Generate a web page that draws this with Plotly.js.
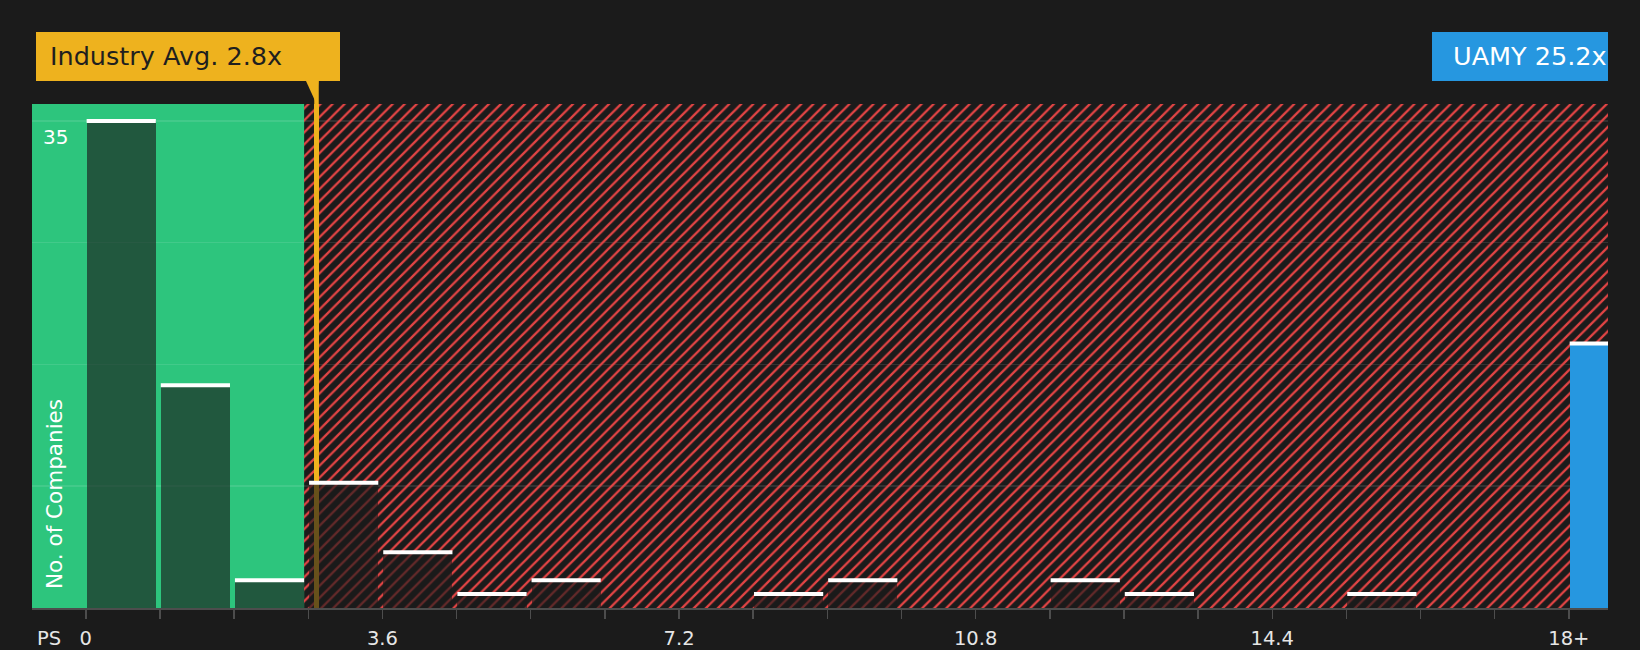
<!DOCTYPE html>
<html>
<head>
<meta charset="utf-8">
<script src="https://cdn.plot.ly/plotly-3.0.1.min.js"></script>
<style>
  html, body { margin: 0; padding: 0; background: #1b1b1b; }
  #chart { width: 1640px; height: 650px; }
</style>
</head>
<body>
<div id="chart"></div>
<script>
"use strict"

// PS ratio bins (start of each 0.9 wide bin) and no. of companies
const binStarts = [0, 0.9, 1.8, 2.7, 3.6, 4.5, 5.4, 6.3, 7.2, 8.1, 9.0, 9.9, 10.8, 11.7, 12.6, 13.5, 14.4, 15.3, 16.2, 17.1]
const counts    = [35, 16, 2, 9, 4, 1, 2, 0, 0, 1, 2, 0, 0, 2, 1, 0, 0, 1, 0, 0]
const overflowStart = 18
const overflowCount = 19

const industryAvg = 2.8
const greenUpper = 2.65
const companyName = "UAMY"
const companyPS = 25.2

const tickVals = [0, 0.9, 1.8, 2.7, 3.6, 4.5, 5.4, 6.3, 7.2, 8.1, 9.0, 9.9, 10.8, 11.7, 12.6, 13.5, 14.4, 15.3, 16.2, 17.1, 18]
const tickText = ["0", "", "", "", "3.6", "", "", "", "7.2", "", "", "", "10.8", "", "", "", "14.4", "", "", "", "18+"]
const gridVals = [0, 8.75, 17.5, 26.25, 35]

const GREEN = "#2dc57d"
const RED = "#e24444"
const ORANGE = "#eeb21e"
const BLUE = "#2697e0"
const BG = "#1b1b1b"
const FONT = "DejaVu Sans, Verdana, sans-serif"

const barOffset = 0.01
const barWidth = 0.84
const yMax = 36.22

// hatched "overvalued" zone, drawn as a patterned bar so it sits under the data bars
const hatch = {
  type: "bar",
  x: [greenUpper],
  y: [yMax + 5],
  base: 0,
  offset: 0,
  width: [20],
  marker: {
    color: "rgba(0,0,0,0)",
    line: {width: 0},
    pattern: {shape: "/", fgcolor: RED, bgcolor: "rgba(0,0,0,0)", size: 8.5, solidity: 0.27}
  },
  hoverinfo: "skip"
}

const avgLine = {
  type: "bar",
  x: [industryAvg],
  y: [yMax + 5],
  width: [0.055],
  marker: {color: ORANGE, line: {width: 0}},
  hoverinfo: "skip"
}

const bars = {
  type: "bar",
  x: binStarts,
  y: counts,
  offset: barOffset,
  width: barWidth,
  marker: {color: "rgba(27,27,27,0.64)", line: {width: 0}},
  hoverinfo: "skip"
}

const overflowBar = {
  type: "bar",
  x: [overflowStart],
  y: [overflowCount],
  offset: barOffset,
  width: barWidth,
  marker: {color: BLUE, line: {width: 0}},
  hoverinfo: "skip"
}

// white caps on top of each non-empty bar
const capX = []
const capY = []
binStarts.concat([overflowStart]).forEach((s, i) => {
  const v = i < counts.length ? counts[i] : overflowCount
  if (v > 0) {
    capX.push(s + barOffset, s + barOffset + barWidth, null)
    capY.push(v, v, null)
  }
})
const caps = {
  type: "scatter",
  mode: "lines",
  x: capX,
  y: capY,
  line: {color: "#ffffff", width: 4},
  hoverinfo: "skip"
}

// pixel -> paper helpers for the boxes above the plot
const M = {l: 32, r: 32, t: 104, b: 42}
const plotW = 1640 - M.l - M.r
const plotH = 650 - M.t - M.b
const px = x => (x - M.l) / plotW
const py = y => (650 - M.b - y) / plotH

const layout = {
  width: 1640,
  height: 650,
  margin: M,
  paper_bgcolor: BG,
  plot_bgcolor: BG,
  barmode: "overlay",
  bargap: 0,
  showlegend: false,
  hovermode: false,
  font: {family: FONT, color: "#e6e6e6"},
  xaxis: {
    range: [-0.653, 18.475],
    tickvals: tickVals,
    ticktext: tickText,
    ticks: "outside",
    ticklen: 9,
    tickwidth: 1.5,
    tickcolor: "#4d4d4d",
    showline: true,
    linecolor: "#4d4d4d",
    linewidth: 2,
    showgrid: false,
    zeroline: false,
    ticklabelstandoff: 3,
    tickfont: {size: 19.5, color: "#e6e6e6", family: FONT}
  },
  yaxis: {
    range: [0, yMax],
    tickvals: gridVals,
    showticklabels: false,
    showgrid: true,
    gridcolor: "rgba(255,255,255,0.1)",
    gridwidth: 1.5,
    zeroline: false,
    showline: false
  },
  shapes: [
    {type: "rect", layer: "below", xref: "x", yref: "paper", x0: -2, x1: greenUpper, y0: 0, y1: 1,
      fillcolor: GREEN, line: {width: 0}},
    {type: "line", layer: "above", xref: "x", yref: "paper", x0: industryAvg, x1: industryAvg, y0: 1, y1: py(81),
      line: {color: ORANGE, width: 4.5}},
    {type: "path", layer: "above", xref: "x", xsizemode: "pixel", xanchor: industryAvg,
      yref: "paper", ysizemode: "pixel", yanchor: 1,
      path: "M-10.5,23L2,23L0,0Z", fillcolor: ORANGE, line: {width: 0}},
    {type: "rect", layer: "above", xref: "paper", yref: "paper", x0: px(36), x1: px(340), y0: py(81), y1: py(32),
      fillcolor: ORANGE, line: {width: 0}},
    {type: "rect", layer: "above", xref: "paper", yref: "paper", x0: px(1432), x1: 1, y0: py(81), y1: py(32),
      fillcolor: BLUE, line: {width: 0}}
  ],
  annotations: [
    {xref: "paper", yref: "paper", x: px(48), y: py(56.5), xanchor: "left", yanchor: "middle", showarrow: false,
      text: "Industry Avg. " + industryAvg + "x", font: {size: 25.5, color: "#1f1f1f", family: FONT}},
    {xref: "paper", yref: "paper", x: px(1451), y: py(56.5), xanchor: "left", yanchor: "middle", showarrow: false,
      text: companyName + " " + companyPS + "x", font: {size: 25.5, color: "#ffffff", family: FONT}},
    {xref: "paper", yref: "y", x: px(41), y: gridVals[gridVals.length - 1], yshift: -16, xanchor: "left", yanchor: "middle",
      showarrow: false, text: String(gridVals[gridVals.length - 1]), font: {size: 20, color: "#ffffff", family: FONT}},
    {xref: "paper", yref: "paper", x: px(54), y: py(591), xanchor: "center", yanchor: "bottom", textangle: -90,
      showarrow: false, text: "No. of Companies", font: {size: 21.5, color: "#ffffff", family: FONT}},
    {xref: "paper", yref: "paper", x: px(35), y: py(638), xanchor: "left", yanchor: "middle", showarrow: false,
      text: "PS", font: {size: 19.5, color: "#e6e6e6", family: FONT}}
  ]
}

Plotly.newPlot("chart", [hatch, avgLine, bars, overflowBar, caps], layout, {displayModeBar: false, staticPlot: true})
</script>
</body>
</html>
